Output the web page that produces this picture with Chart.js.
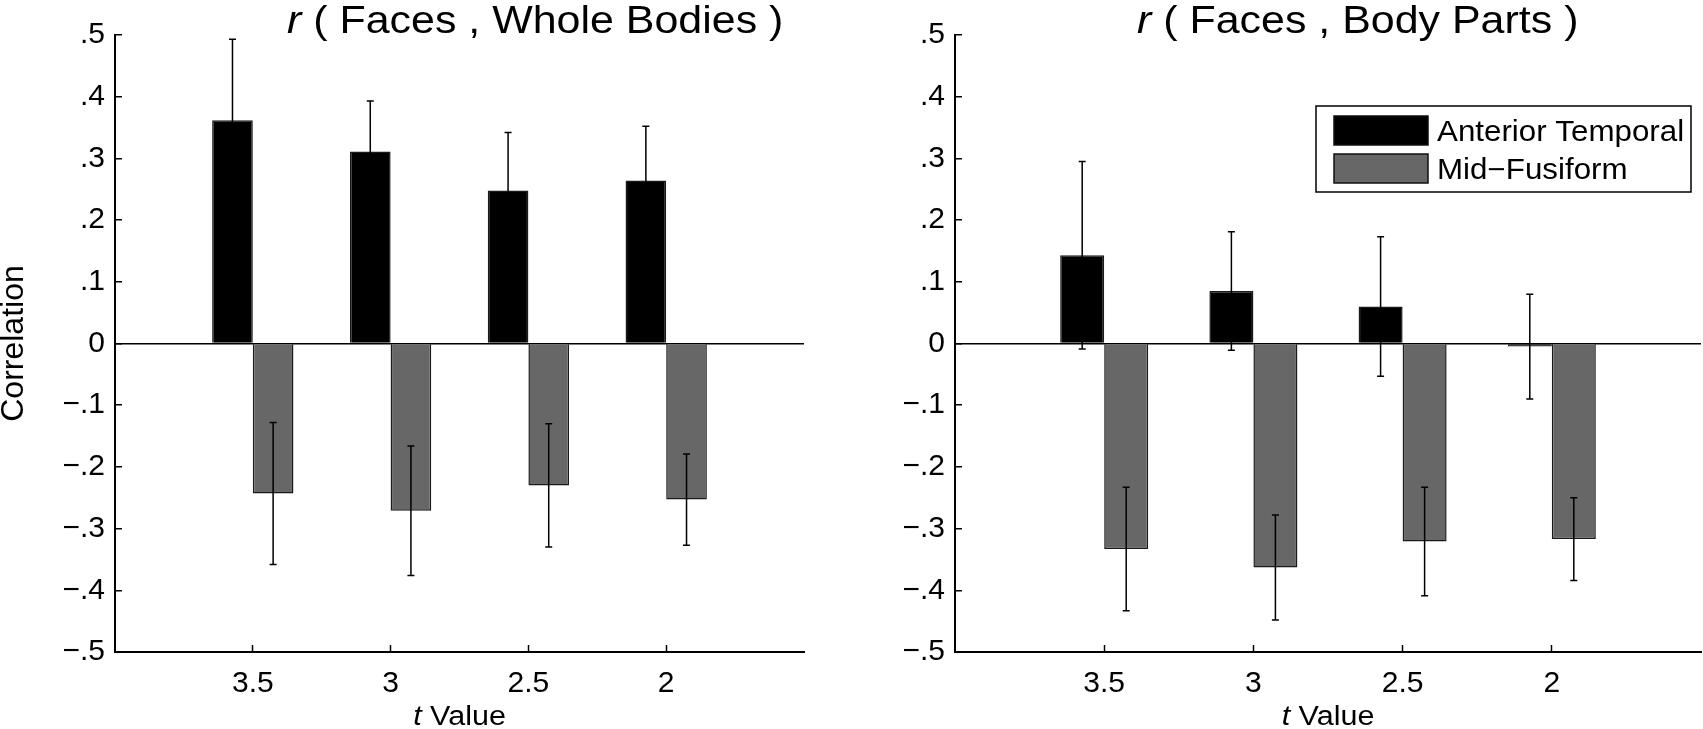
<!DOCTYPE html>
<html>
<head>
<meta charset="utf-8">
<script src="https://cdn.jsdelivr.net/npm/chart.js@4"></script>
<style>
body { margin: 0; background: #fff; }
#wrap { position: relative; width: 1703px; height: 729px; }
canvas { position: absolute; top: 0; }
#left { left: 0; }
#right { left: 850px; }
</style>
</head>
<body>
<div id="wrap">
<canvas id="left" width="850" height="729"></canvas>
<canvas id="right" width="853" height="729"></canvas>
</div>
<script>
const tLabels = ['3.5', '3', '2.5', '2']
const xPos = [1, 2, 3, 4]
const yTickValues = [-0.5, -0.4, -0.3, -0.2, -0.1, 0, 0.1, 0.2, 0.3, 0.4, 0.5]
const yTickLabels = ['\u2212.5', '\u2212.4', '\u2212.3', '\u2212.2', '\u2212.1', '0', '.1', '.2', '.3', '.4', '.5']
const seriesNames = ['Anterior Temporal', 'Mid\u2212Fusiform']
const seriesColors = ['#000000', '#676767']

// r(Faces, Whole Bodies)
const wholeAT = [0.362, 0.311, 0.248, 0.264]
const wholeATErr = [0.131, 0.082, 0.094, 0.088]
const wholeMF = [-0.243, -0.271, -0.230, -0.253]
const wholeMFErr = [0.115, 0.105, 0.100, 0.074]

// r(Faces, Body Parts)
const partsAT = [0.143, 0.085, 0.060, -0.005]
const partsATErr = [0.152, 0.096, 0.113, 0.085]
const partsMF = [-0.333, -0.363, -0.321, -0.317]
const partsMFErr = [0.100, 0.085, 0.088, 0.067]

const FONT = '"Liberation Sans", Arial, sans-serif'
Chart.defaults.font.family = FONT
Chart.defaults.color = '#000'

const errorBars = {
    id: 'errorBars',
    afterDatasetsDraw(chart) {
        const ctx = chart.ctx
        const y = chart.scales.y
        chart.data.datasets.forEach((ds, i) => {
            const meta = chart.getDatasetMeta(i)
            meta.data.forEach((bar, j) => {
                const v = ds.data[j].y
                const e = ds.errors[j]
                const top = y.getPixelForValue(v + e)
                const bot = y.getPixelForValue(v - e)
                ctx.save()
                ctx.strokeStyle = '#000'
                ctx.lineWidth = 1.5
                ctx.beginPath()
                ctx.moveTo(bar.x, top)
                ctx.lineTo(bar.x, bot)
                ctx.moveTo(bar.x - 3.5, top)
                ctx.lineTo(bar.x + 3.5, top)
                ctx.moveTo(bar.x - 3.5, bot)
                ctx.lineTo(bar.x + 3.5, bot)
                ctx.stroke()
                ctx.restore()
            })
        })
    }
}

// the source figure's lettering is a bit wide, so stretch it sideways
const wideText = (ctx, parts, x, y, sx) => {
    ctx.save()
    ctx.translate(x, y)
    ctx.scale(sx, 1)
    let cx = 0
    parts.forEach(p => {
        ctx.font = p.font
        ctx.fillText(p.text, cx, 0)
        cx += ctx.measureText(p.text).width
    })
    ctx.restore()
    return cx * sx
}

const measureParts = (ctx, parts, sx) => {
    let w = 0
    parts.forEach(p => {
        ctx.font = p.font
        w += ctx.measureText(p.text).width
    })
    return w * sx
}

// title "r ( ... )" and x label "t Value" with italic letters, plus legend box
const textBits = (title, showLegend) => ({
    id: 'textBits',
    afterDraw(chart) {
        const ctx = chart.ctx
        const area = chart.chartArea
        ctx.save()
        ctx.fillStyle = '#000'
        ctx.textBaseline = 'alphabetic'
        ctx.textAlign = 'left'

        wideText(ctx, [
            { text: 'r ', font: 'italic 38px ' + FONT },
            { text: '( ' + title + ' )', font: '38px ' + FONT }
        ], 287, 33, 1.13)

        const xl = [
            { text: 't ', font: 'italic 27px ' + FONT },
            { text: 'Value', font: '27px ' + FONT }
        ]
        const xw = measureParts(ctx, xl, 1.13)
        wideText(ctx, xl, (area.left + area.right) / 2 - xw / 2, 725, 1.13)

        if (showLegend) {
            ctx.fillStyle = '#fff'
            ctx.fillRect(466, 106, 375, 86)
            ctx.strokeStyle = '#000'
            ctx.lineWidth = 1.5
            ctx.strokeRect(466, 106, 375, 86)
            chart.data.datasets.forEach((ds, i) => {
                const top = 116 + i * 38
                ctx.fillStyle = ds.backgroundColor
                ctx.fillRect(484, top, 94, 29)
                ctx.strokeStyle = '#111'
                ctx.lineWidth = 1.5
                ctx.strokeRect(484, top, 94, 29)
                ctx.fillStyle = '#000'
                wideText(ctx, [{ text: ds.label, font: '29px ' + FONT }], 587, top + 25, 1.08)
            })
        }
        ctx.restore()
    }
})

const buildChart = (id, title, at, atErr, mf, mfErr, axisWidth, padRight, yTitle, showLegend) => {
    return new Chart(document.getElementById(id), {
        type: 'bar',
        data: {
            datasets: [{
                label: seriesNames[0],
                backgroundColor: seriesColors[0],
                data: xPos.map((x, i) => ({ x: x, y: at[i] })),
                errors: atErr
            }, {
                label: seriesNames[1],
                backgroundColor: seriesColors[1],
                data: xPos.map((x, i) => ({ x: x, y: mf[i] })),
                errors: mfErr
            }]
        },
        options: {
            responsive: false,
            animation: false,
            layout: { padding: { top: 35, right: padRight, bottom: 0, left: 0 } },
            datasets: {
                bar: { categoryPercentage: 0.59, barPercentage: 1, borderWidth: 1.5, borderColor: '#1a1a1a' }
            },
            plugins: {
                legend: { display: false },
                tooltip: { enabled: false }
            },
            scales: {
                x: {
                    type: 'linear',
                    min: 0,
                    max: 5,
                    offset: false,
                    border: { color: '#000', width: 2 },
                    grid: { offset: false, drawOnChartArea: false, tickLength: -7, tickColor: '#000', tickWidth: 1.5 },
                    afterBuildTicks: s => { s.ticks = xPos.map(v => ({ value: v })) },
                    ticks: {
                        padding: 21,
                        maxRotation: 0,
                        autoSkip: false,
                        font: { size: 30 },
                        color: '#000',
                        callback: v => tLabels[xPos.indexOf(v)]
                    },
                    afterFit: s => { s.height = 77 }
                },
                y: {
                    min: -0.5,
                    max: 0.5,
                    border: { color: '#000', width: 2 },
                    grid: {
                        color: c => (c.tick && c.tick.value === 0 ? '#000' : 'rgba(0,0,0,0)'),
                        lineWidth: 1.5,
                        tickLength: -7,
                        tickColor: '#000',
                        tickWidth: 1.5
                    },
                    afterBuildTicks: s => { s.ticks = yTickValues.map(v => ({ value: v })) },
                    ticks: {
                        padding: 17,
                        autoSkip: false,
                        font: { size: 30 },
                        color: '#000',
                        callback: (v, i) => yTickLabels[i]
                    },
                    title: {
                        display: yTitle,
                        text: 'Correlation',
                        font: { size: 32, lineHeight: 0.9 },
                        color: '#000',
                        padding: 0
                    },
                    afterFit: s => { s.width = axisWidth }
                }
            }
        },
        plugins: [errorBars, textBits(title, showLegend)]
    })
}

buildChart('left', 'Faces , Whole Bodies', wholeAT, wholeATErr, wholeMF, wholeMFErr, 115, 46, true, false)
buildChart('right', 'Faces , Body Parts', partsAT, partsATErr, partsMF, partsMFErr, 105, 2, false, true)
</script>
</body>
</html>
